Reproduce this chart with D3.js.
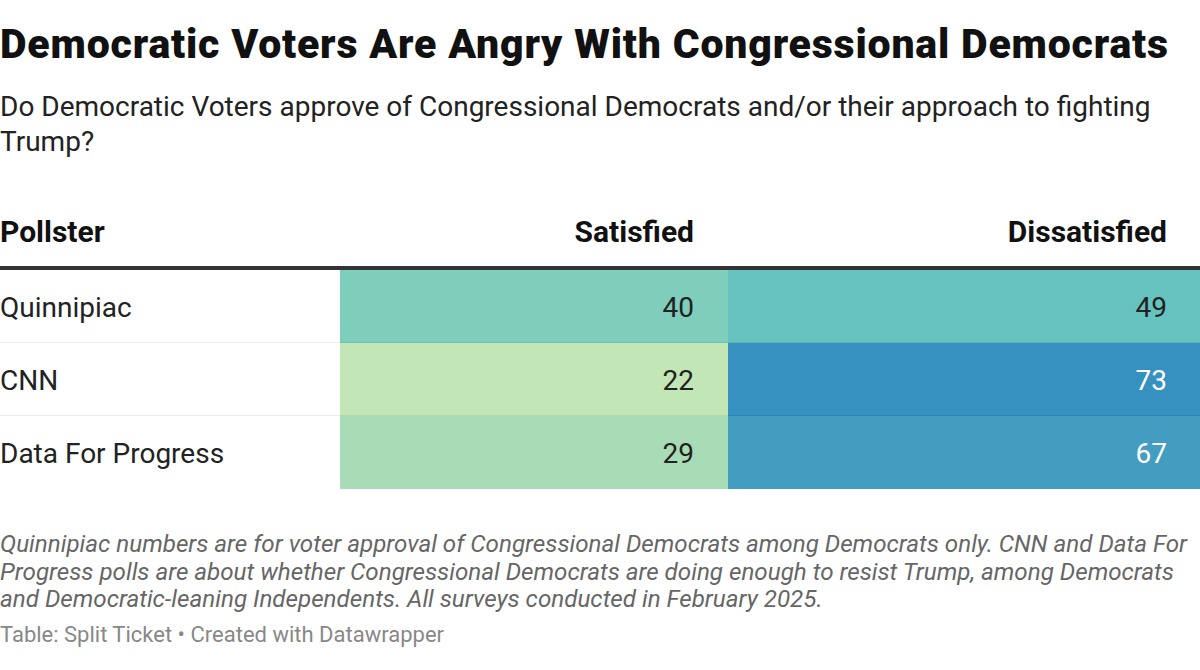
<!DOCTYPE html>
<html><head><meta charset="utf-8">
<script src="https://cdn.jsdelivr.net/npm/d3@7"></script>
<style>body{margin:0;background:#fff;font-family:Roboto,sans-serif}</style>
</head><body><svg id="c" width="1200" height="670"></svg>
<script>
const pollsters = ["Quinnipiac", "CNN", "Data For Progress"];
const satisfied = [40, 22, 29];
const dissatisfied = [49, 73, 67];
const columns = ["Pollster", "Satisfied", "Dissatisfied"];
const title = "Democratic Voters Are Angry With Congressional Democrats";
const subtitle = ["Do Democratic Voters approve of Congressional Democrats and/or their approach to fighting", "Trump?"];
const notes = ["Quinnipiac numbers are for voter approval of Congressional Democrats among Democrats only. CNN and Data For",
  "Progress polls are about whether Congressional Democrats are doing enough to resist Trump, among Democrats",
  "and Democratic-leaning Independents. All surveys conducted in February 2025."];
const source = "Table: Split Ticket • Created with Datawrapper";

const svg = d3.select("#c");
const W = 1200;
const color = d3.scaleLinear().domain([22, 40, 49, 73])
  .range(["#c2e6b5", "#7fcdbb", "#67c3c0", "#3690c0"]).interpolate(d3.interpolateRgb);

svg.append("text").attr("x", 0).attr("y", 58).attr("font-size", 41).attr("font-weight", 900)
  .attr("textLength", 1168).attr("lengthAdjust", "spacing")
  .attr("fill", "#111").text(title);
subtitle.forEach((s, i) => svg.append("text").attr("x", 0).attr("y", 115.5 + i * 35.5)
  .attr("font-size", 28).attr("fill", "#222").text(s));

const tableTop = 268, rowH = 73;
const y = d3.scaleBand().domain(pollsters).range([tableTop + 2, tableTop + 2 + rowH * 3]);
const colX = [0, 340, 728, 1200];

// headers
const hdrY = 242;
svg.append("text").attr("x", 0).attr("y", hdrY).attr("font-size", 30).attr("font-weight", 700).attr("fill", "#111").text(columns[0]);
svg.append("text").attr("x", 694).attr("y", hdrY).attr("text-anchor", "end").attr("font-size", 30).attr("font-weight", 700).attr("fill", "#111").text(columns[1]);
svg.append("text").attr("x", 1167).attr("y", hdrY).attr("text-anchor", "end").attr("font-size", 30).attr("font-weight", 700).attr("fill", "#111").text(columns[2]);

const rows = pollsters.map((p, i) => ({p, s: satisfied[i], d: dissatisfied[i]}));
const g = svg.append("g");
const cells = [];
rows.forEach(r => {
  cells.push({p: r.p, v: r.s, x0: colX[1], x1: colX[2], tx: 694});
  cells.push({p: r.p, v: r.d, x0: colX[2], x1: colX[3], tx: 1167});
});
g.selectAll("rect.cell").data(cells).join("rect")
  .attr("x", d => d.x0).attr("y", d => y(d.p)).attr("width", d => d.x1 - d.x0).attr("height", y.bandwidth())
  .attr("fill", d => color(d.v));
// separators
pollsters.slice(1).forEach(p => {
  g.append("line").attr("x1", 0).attr("x2", W).attr("y1", y(p) - 0.5).attr("y2", y(p) - 0.5)
    .attr("stroke", "#000").attr("stroke-opacity", 0.07);
});
g.selectAll("text.name").data(rows).join("text")
  .attr("x", 0).attr("y", d => y(d.p) + y.bandwidth() / 2 + 10).attr("font-size", 28).attr("fill", "#222").text(d => d.p);
g.selectAll("text.val").data(cells).join("text")
  .attr("x", d => d.tx).attr("y", d => y(d.p) + y.bandwidth() / 2 + 10).attr("text-anchor", "end")
  .attr("font-size", 28).attr("fill", d => d.v > 60 ? "#fff" : "#222").text(d => d.v);
// header rule
svg.append("rect").attr("x", 0).attr("y", tableTop - 2).attr("width", W).attr("height", 4).attr("fill", "#333");

notes.forEach((s, i) => svg.append("text").attr("x", 0).attr("y", 552 + i * 27.5)
  .attr("font-size", 24.2).attr("font-style", "italic").attr("fill", "#666").text(s));
svg.append("text").attr("x", 0).attr("y", 642).attr("font-size", 22).attr("fill", "#888").text(source);
</script></body></html>
